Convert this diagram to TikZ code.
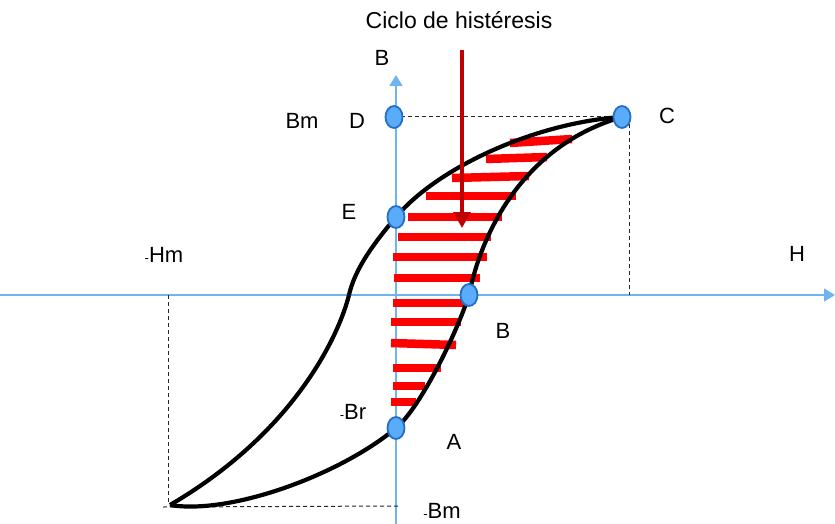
\documentclass[tikz,border=0pt]{standalone}
\usepackage{fontspec}
\setmainfont{Liberation Sans}
\usetikzlibrary{shapes.geometric,arrows.meta}
\definecolor{axisblue}{RGB}{110,180,240}
\definecolor{mkfill}{RGB}{90,172,250}
\definecolor{mkline}{RGB}{35,110,200}
\definecolor{darkred}{RGB}{192,0,0}
\tikzset{
  axisline/.style={draw=axisblue, line width=1.4pt, -{Triangle[width=13pt,length=11pt]}},
  guide/.style={draw=black!85, line width=1pt, dash pattern=on 4pt off 3pt},
  bar/.style={draw=red, line width=8.5pt},
  loop/.style={draw=black, line width=4.2pt, line join=round},
  mk/.style={ellipse, draw=mkline, fill=mkfill, line width=1.8pt, minimum width=17pt, minimum height=22pt, inner sep=0pt},
  lbl/.style={font=\fontsize{22}{26}\selectfont, inner sep=0pt},
  ttl/.style={font=\fontsize{23}{27}\selectfont, inner sep=0pt}
}
\newcommand{\smallhy}{{\fontsize{13}{13}\selectfont -}}
\begin{document}
\begin{tikzpicture}[x=1pt,y=-1pt]
\useasboundingbox (0,0) rectangle (835,524);
% axes
\coordinate (hstart) at (0,295);
\coordinate (hend) at (835,295);
\coordinate (bstart) at (396,524);
\coordinate (bend) at (396,75);
\draw[axisline] (hstart) -- (hend);
\draw[axisline] (bstart) -- (bend);
% marker positions
\coordinate (pD) at (394,117);
\coordinate (pC) at (622,117);
\coordinate (pE) at (396,217);
\coordinate (pB) at (469,295);
\coordinate (pA) at (396,428);
\coordinate (pK) at (349,295);
\coordinate (pL) at (170,505);
% dashed guides
\coordinate (gC1) at (629,117);
\coordinate (gC2) at (629,295);
\coordinate (gL1) at (168,295);
\coordinate (gL2) at (168,505);
\coordinate (gB1) at (163,507);
\coordinate (gB2) at (398,506);
\draw[guide] (pD) -- (pC);
\draw[guide] (gC1) -- (gC2);
\draw[guide] (gL1) -- (gL2);
\draw[guide] (gB1) -- (gB2);
% red hatching bars
\draw[bar] (510,143) -- (572,139);
\draw[bar] (486,159) -- (547,157);
\draw[bar] (452,178) -- (529,176);
\draw[bar] (426,196) -- (516,196);
\draw[bar] (408,217) -- (502,217);
\draw[bar] (398,237) -- (491,237);
\draw[bar] (393,257) -- (487,257);
\draw[bar] (394,278) -- (480,278);
\draw[bar] (393,303) -- (463,303);
\draw[bar] (391,322) -- (461,322);
\draw[bar] (391,343) -- (456,345);
\draw[bar] (393,368) -- (441,368);
\draw[bar] (393,386) -- (425,386);
\draw[bar] (391,402) -- (416,402);
% hysteresis loop
\draw[loop] (pC) .. controls (540,122) and (440,165) .. (pE)
            .. controls (375,242) and (355,268) .. (pK);
\draw[loop] (pK) .. controls (339,335) and (295,432) .. (pL);
\draw[loop] (pL) .. controls (230,515) and (340,475) .. (pA)
            .. controls (420,408) and (456,335) .. (pB)
            .. controls (482,230) and (525,145) .. (pC);
% red arrow
\coordinate (arT) at (462,50);
\coordinate (arB) at (462,228);
\draw[darkred, line width=3.3pt, -{Triangle[width=17pt,length=16pt]}] (arT) -- (arB);
% markers
\node[mk] (D) at (pD) {};
\node[mk] (C) at (pC) {};
\node[mk] (E) at (pE) {};
\node[mk] (Bp) at (pB) {};
\node[mk] (A) at (pA) {};
% labels
\node[ttl] (title) at (459,20) {Ciclo de histéresis};
\node[lbl] (lBax) at (382,58) {B};
\node[lbl] (lBm) at (302,121) {Bm};
\node[lbl] (lD) at (357,121) {D};
\node[lbl] (lC) at (667,116) {C};
\node[lbl] (lE) at (349,212) {E};
\node[lbl] (lHm) at (164,255) {\smallhy Hm};
\node[lbl] (lH) at (797,254) {H};
\node[lbl] (lB) at (503,331) {B};
\node[lbl] (lBr) at (353,412) {\smallhy Br};
\node[lbl] (lA) at (454,442) {A};
\node[lbl] (lnBm) at (442,511) {\smallhy Bm};
\end{tikzpicture}
\end{document}
